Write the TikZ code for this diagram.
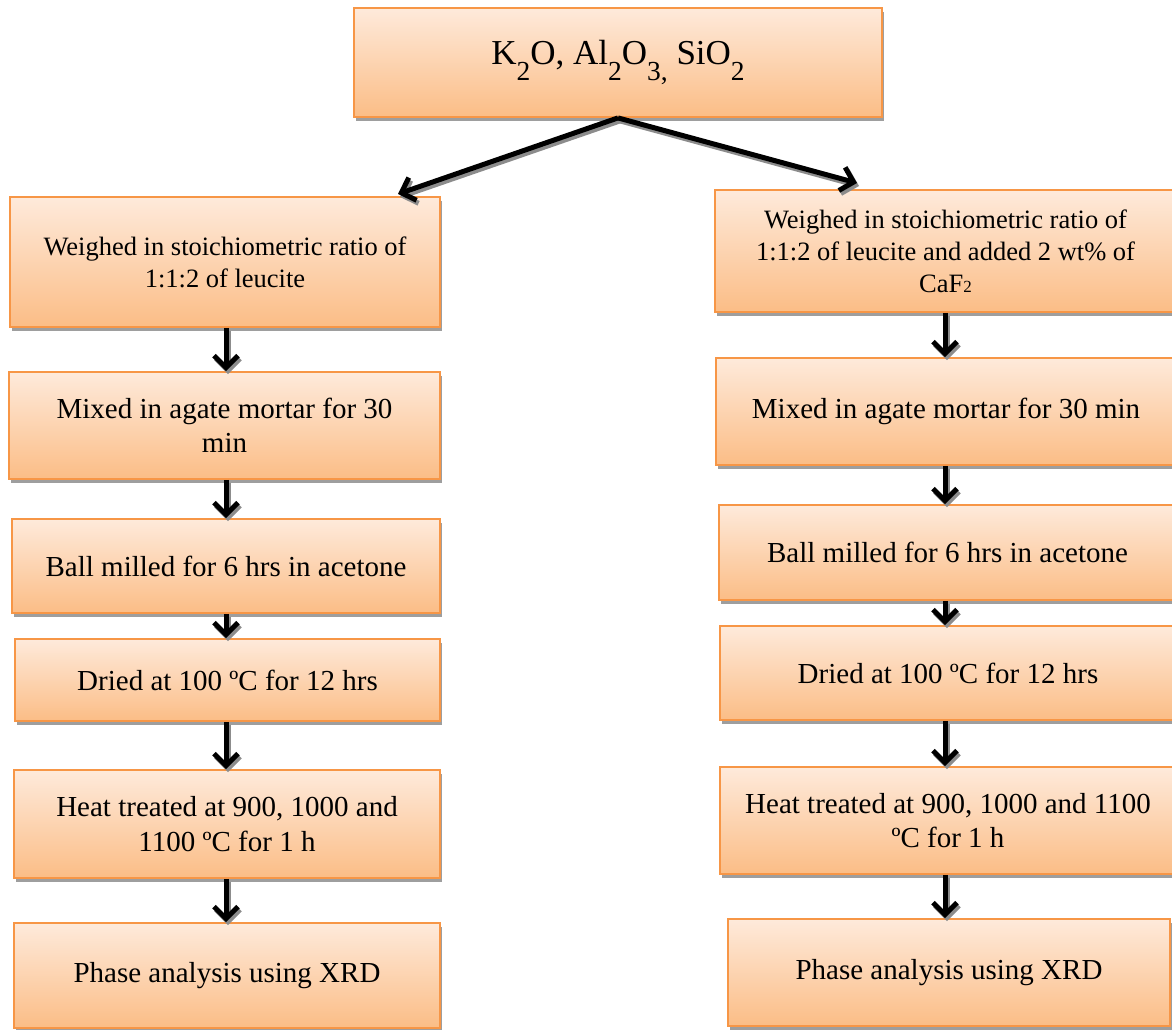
\documentclass[tikz,border=0pt]{standalone}
\usepackage{fontspec}
\setmainfont{Liberation Serif}
\usetikzlibrary{arrows.meta,shadows,calc}
\definecolor{boxline}{HTML}{F79646}
\definecolor{boxtop}{HTML}{FEEADB}
\definecolor{boxbot}{HTML}{FBBD86}
\definecolor{shadowgray}{HTML}{9E9E9E}
\definecolor{arrshade}{HTML}{8C8C8C}
\newcommand\fsA{\fontsize{29}{34.5}\selectfont}
\newcommand\fsB{\fontsize{26.5}{32}\selectfont}
\newcommand\fsT{\fontsize{35}{40}\selectfont}
\newcommand\mysub[1]{\raisebox{-16pt}{\fontsize{27.5}{27.5}\selectfont #1}}
\newcommand\smallsub[1]{{\fontsize{17}{17}\selectfont #1}}
\tikzset{
  flowbox/.style={draw=boxline, line width=1.8pt, top color=boxtop, bottom color=boxbot,
    inner sep=0pt, align=center, text=black, font=\fsA,
    drop shadow={shadow xshift=1.5pt, shadow yshift=-4pt, fill=shadowgray, opacity=1}},
  flowarr/.style={draw=black, line width=5pt, -{Straight Barb[length=12pt,width=24pt]}},
  flowarrshadow/.style={draw=arrshade, line width=5pt, -{Straight Barb[length=12pt,width=24pt]}},
}
\newcommand\allconnectors[1]{%
\draw[#1] (top.south) -- (ltip);
\draw[#1] (top.south) -- (rtip);
\draw[#1] (l1.south -| lx) -- (l2.north -| lx);
\draw[#1] (l2.south -| lx) -- (l3.north -| lx);
\draw[#1] (l3.south -| lx) -- (l4.north -| lx);
\draw[#1] (l4.south -| lx) -- (l5.north -| lx);
\draw[#1] (l5.south -| lx) -- (l6.north -| lx);
\draw[#1] (r1.south -| rx) -- (r2.north -| rx);
\draw[#1] (r2.south -| rx) -- (r3.north -| rx);
\draw[#1] (r3.south -| rx) -- (r4.north -| rx);
\draw[#1] (r4.south -| rx) -- (r5.north -| rx);
\draw[#1] (r5.south -| rx) -- (r6.north -| rx);}
\begin{document}
\begin{tikzpicture}[x=1pt,y=-1pt]
\useasboundingbox (0,0) rectangle (1172,1030);
\fill[white] (0,0) rectangle (1172,1030);
% top
\node[flowbox, font=\fsT, minimum width=528pt, minimum height=109pt] (top) at (618,62.5)
  {K\mysub{2}O, Al\mysub{2}O\mysub{3,} SiO\mysub{2}};
% left column
\node[flowbox, font=\fsB, minimum width=430pt, minimum height=130pt] (l1) at (225,262)
  {Weighed in stoichiometric ratio of\\1:1:2 of leucite};
\node[flowbox, minimum width=431pt, minimum height=107pt] (l2) at (224.5,425.5)
  {Mixed in agate mortar for 30\\min};
\node[flowbox, minimum width=428pt, minimum height=94pt] (l3) at (226,566)
  {Ball milled for 6 hrs in acetone};
\node[flowbox, minimum width=425pt, minimum height=82pt] (l4) at (227.5,680)
  {Dried at 100 ºC for 12 hrs};
\node[flowbox, minimum width=426pt, minimum height=108pt] (l5) at (227,824)
  {Heat treated at 900, 1000 and\\1100 ºC for 1 h};
\node[flowbox, minimum width=426pt, minimum height=105pt] (l6) at (227,975.5)
  {Phase analysis using XRD};
% right column
\node[flowbox, font=\fsB, minimum width=461pt, minimum height=122pt] (r1) at (945.5,251)
  {Weighed in stoichiometric ratio of\\1:1:2 of leucite and added 2 wt\% of\\CaF\smallsub{2}};
\node[flowbox, minimum width=460pt, minimum height=107pt] (r2) at (946,411.5)
  {Mixed in agate mortar for 30 min};
\node[flowbox, minimum width=457pt, minimum height=95pt] (r3) at (947.5,552.5)
  {Ball milled for 6 hrs in acetone};
\node[flowbox, minimum width=456pt, minimum height=94pt] (r4) at (948,673)
  {Dried at 100 ºC for 12 hrs};
\node[flowbox, minimum width=456pt, minimum height=107pt] (r5) at (948,820.5)
  {Heat treated at 900, 1000 and 1100\\ºC for 1 h};
\node[flowbox, minimum width=442pt, minimum height=107pt] (r6) at (949,972.5)
  {Phase analysis using XRD};
% connector guides
\coordinate (lx) at (226,0);
\coordinate (rx) at (945,0);
\coordinate (ltip) at (398,194);
\coordinate (rtip) at (857,183);
% connector shadows, then connectors
\begin{scope}[transform canvas={shift={(2pt,-3pt)}}]
\allconnectors{flowarrshadow}
\end{scope}
\allconnectors{flowarr}
\end{tikzpicture}
\end{document}
